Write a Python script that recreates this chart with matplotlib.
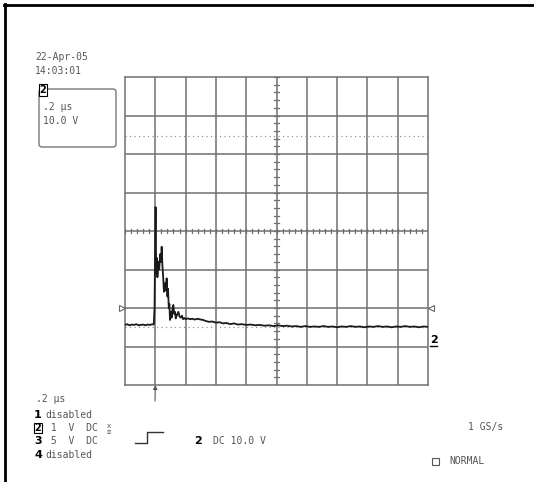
import matplotlib
matplotlib.use("Agg")
import matplotlib.pyplot as plt
from matplotlib.patches import FancyBboxPatch, Rectangle
from matplotlib.lines import Line2D

# ---------------- data ----------------
# screen setup
time_per_div_ns = 200.0      # .2 us / div
volts_per_div = 10.0         # 10.0 V / div
trigger_div = 1.0            # trigger position (divisions from left edge)
ground_div = -2.0            # channel 2 ground marker (divisions from centre)
n_xdiv = 10
n_ydiv = 8

# channel 2 trace (time in ns relative to trigger, voltage in V relative to ground)
time_ns = [-200, -185, -170, -155, -140, -125, -110, -95, -80, -65, -50, -35, -20, -10,
           -5, -2, 0, 2, 4, 6, 10, 14, 20, 26, 32, 38, 42, 47, 52, 57, 62, 66, 70, 75,
           80, 84, 89, 93, 97, 103, 108, 114, 119, 125, 130, 135, 143, 152, 160, 168,
           176, 183, 192, 200, 215, 230, 245, 260, 280, 300, 315, 335, 355, 375, 400,
           425, 447, 470, 495, 520, 545, 570, 600, 630, 660, 690, 720, 750, 780, 810,
           840, 870, 900, 930, 960, 990, 1020, 1050, 1080, 1110, 1140, 1170, 1200, 1230,
           1260, 1290, 1320, 1350, 1380, 1410, 1440, 1470, 1500, 1530, 1560, 1590, 1620,
           1650, 1680, 1710, 1740, 1770, 1800]
volts = [-4.4, -4.2, -4.5, -4.3, -4.4, -4.2, -4.5, -4.4, -4.3, -4.5, -4.3, -4.4, -4.2, -4.3,
         0.0, 12.0, 20.0, 26.2, 16.0, 9.0, 13.0, 8.0, 12.0, 10.0, 14.0, 12.0, 15.9, 11.0, 8.0,
         4.2, 6.0, 6.5, 4.5, 7.7, 3.0, 5.0, 0.0, 1.0, -3.1, -1.0, -2.5, 0.0, 0.8, -1.5, -1.0,
         -2.7, -1.8, -1.0, -2.2, -2.5, -2.0, -2.9, -2.6, -2.9, -2.7, -2.9, -2.8, -3.0, -2.8,
         -3.0, -3.1, -3.4, -3.6, -3.5, -3.8, -3.7, -4.0, -3.9, -4.2, -4.0, -4.3, -4.2, -4.4,
         -4.3, -4.5, -4.4, -4.6, -4.5, -4.7, -4.5, -4.7, -4.6, -4.8, -4.7, -4.9, -4.7, -4.9,
         -4.8, -4.9, -4.7, -4.9, -4.8, -5.0, -4.8, -4.9, -4.7, -4.9, -4.8, -5.0, -4.8, -4.9,
         -4.7, -4.9, -4.8, -5.0, -4.8, -4.9, -4.7, -4.9, -4.8, -5.0, -4.8, -4.9]

date_text = "22-Apr-05"
time_text = "14:03:01"
box_lines = [".2 μs", "10.0 V"]
timebase_text = ".2 μs"
channel_ids = ["1", "2", "3", "4"]
channel_texts = ["disabled", " 1  V  DC", " 5  V  DC", "disabled"]
trigger_text = "DC 10.0 V"
sample_rate_text = "1 GS/s"
mode_text = "NORMAL"

# ---------------- figure ----------------
W, H = 534, 482
fig = plt.figure(figsize=(W / 100, H / 100), dpi=100)
fig.patch.set_facecolor("white")

def fx(px):
    return px / W

def fy(py):
    return 1 - py / H

GRID_L, GRID_R, GRID_T, GRID_B = 125, 428, 77, 385
ax = fig.add_axes([fx(GRID_L), fy(GRID_B), (GRID_R - GRID_L) / W, (GRID_B - GRID_T) / H])
ax.set_xlim(0, n_xdiv)
ax.set_ylim(-n_ydiv / 2, n_ydiv / 2)
ax.set_xticks([])
ax.set_yticks([])
for s in ax.spines.values():
    s.set_color("#707070")
    s.set_linewidth(1.1)

gcol = "#707070"
for i in range(1, n_xdiv):
    ax.axvline(i, color=gcol, lw=1.1, zorder=1)
for j in range(1, n_ydiv):
    ax.axhline(j - n_ydiv / 2, color=gcol, lw=1.1, zorder=1)

# centre-line minor ticks
for k in range(n_xdiv * 5 + 1):
    xx = k * 0.2
    ax.plot([xx, xx], [-0.06, 0.06], color=gcol, lw=0.9, zorder=1)
for k in range(n_ydiv * 5 + 1):
    yy = -n_ydiv / 2 + k * 0.2
    ax.plot([4.92, 5.08], [yy, yy], color=gcol, lw=0.9, zorder=1)

# dotted reference lines
for yy in (2.47, -2.49):
    ax.plot([0, n_xdiv], [yy, yy], color="#8a8a8a", lw=0.9,
            linestyle=(0, (0.9, 2.7)), zorder=1)

# ground markers
ax.plot([-0.1], [ground_div], marker=">", markersize=5, markerfacecolor="white",
        markeredgecolor="#666666", markeredgewidth=0.8, clip_on=False, zorder=5)
ax.plot([n_xdiv + 0.1], [ground_div], marker="<", markersize=5, markerfacecolor="white",
        markeredgecolor="#666666", markeredgewidth=0.8, clip_on=False, zorder=5)

# trace
xs = [t / time_per_div_ns + trigger_div for t in time_ns]
ys = [v / volts_per_div + ground_div for v in volts]
ax.plot(xs, ys, color="#1a1a1a", lw=1.3, zorder=4)

# channel label at right
fig.text(fx(430), fy(340), "2", fontsize=8, fontweight="bold", color="black",
         ha="left", va="center", family="DejaVu Sans")
fig.add_artist(Line2D([fx(430), fx(437)], [fy(346), fy(346)], color="black", lw=1.0))

# trigger arrow
ax.annotate("", xy=(trigger_div, -4.0), xycoords="data",
            xytext=(fx(155), fy(401)), textcoords="figure fraction",
            arrowprops=dict(arrowstyle="-|>", color="#555555", lw=0.8,
                            mutation_scale=6, shrinkA=0, shrinkB=0),
            annotation_clip=False)

# outer frame (top & left)
fig.add_artist(Line2D([fx(4), fx(W)], [fy(5), fy(5)], color="black", lw=2.0))
fig.add_artist(Line2D([fx(5), fx(5)], [fy(4), fy(H)], color="black", lw=2.0))

tcol = "#555555"
FS = 7
mono = "DejaVu Sans Mono"

fig.text(fx(35), fy(57), date_text, fontsize=FS, color=tcol, family=mono, va="center")
fig.text(fx(35), fy(71), time_text, fontsize=FS, color=tcol, family=mono, va="center")

# info box
box = FancyBboxPatch((fx(39), fy(147)), fx(116) - fx(39), fy(89) - fy(147),
                     boxstyle="round,pad=0,rounding_size=0.006",
                     transform=fig.transFigure, facecolor="white",
                     edgecolor="#777777", lw=1.0)
fig.add_artist(box)
fig.text(fx(43), fy(90), "2", fontsize=7, fontweight="bold", color="black",
         family="DejaVu Sans", va="center", ha="center",
         bbox=dict(boxstyle="square,pad=0.1", facecolor="white", edgecolor="black", lw=0.8))
fig.text(fx(43), fy(107), box_lines[0], fontsize=FS, color=tcol, family=mono, va="center")
fig.text(fx(43), fy(121), box_lines[1], fontsize=FS, color=tcol, family=mono, va="center")

# bottom status
fig.text(fx(36), fy(399), timebase_text, fontsize=FS, color=tcol, family=mono, va="center")
rows_y = [415, 428, 441, 455]
for cid, ctext, yy in zip(channel_ids, channel_texts, rows_y):
    if cid == "2":
        fig.text(fx(38), fy(yy), cid, fontsize=7, fontweight="bold", color="black",
                 family="DejaVu Sans", va="center", ha="center",
                 bbox=dict(boxstyle="square,pad=0.05", facecolor="white",
                           edgecolor="black", lw=0.8))
    else:
        fig.text(fx(38), fy(yy), cid, fontsize=8, fontweight="bold", color="black",
                 family="DejaVu Sans", va="center", ha="center")
    fig.text(fx(45), fy(yy), ctext, fontsize=FS, color=tcol, family=mono, va="center")

# coupling symbol after DC on ch 2
fig.text(fx(107), fy(426), "x", fontsize=5, color=tcol, family=mono, va="center")
fig.text(fx(107), fy(432), "≡", fontsize=5, color=tcol, family=mono, va="center")

# trigger edge symbol
fig.add_artist(Line2D([fx(135), fx(147), fx(147), fx(163)],
                      [fy(443), fy(443), fy(432), fy(432)], color="#333333", lw=1.0))
fig.text(fx(198), fy(441), "2", fontsize=8, fontweight="bold", color="black",
         family="DejaVu Sans", va="center", ha="center")
fig.text(fx(213), fy(441), trigger_text, fontsize=FS, color=tcol, family=mono, va="center")

fig.text(fx(468), fy(427), sample_rate_text, fontsize=FS, color=tcol, family=mono, va="center")
fig.add_artist(Rectangle((fx(432), fy(465)), fx(7), fy(0) - fy(7),
                         transform=fig.transFigure, facecolor="white",
                         edgecolor="#555555", lw=0.8))
fig.text(fx(449), fy(461), mode_text, fontsize=7, color=tcol, family=mono, va="center")

fig.savefig("out.png", dpi=100)
